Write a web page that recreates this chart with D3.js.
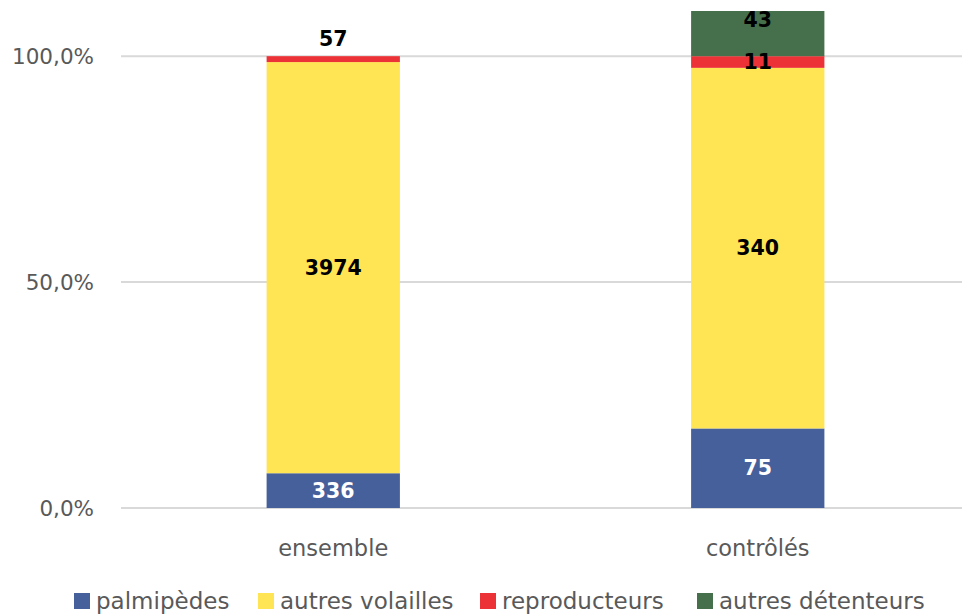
<!DOCTYPE html>
<html>
<head>
  <meta charset="utf-8">
  <title>Palmipèdes et autres volailles : ensemble et contrôlés</title>
  <script src="https://d3js.org/d3.v7.min.js"></script>
  <style>
    body { margin: 0; background: #fff; }
    svg text { font-family: "DejaVu Sans", "Open Sans", sans-serif; }
    .grid line { stroke: #d9d9d9; stroke-width: 2; }
    .tick-label { fill: #595959; font-size: 21.5px; }
    .cat-label { fill: #595959; font-size: 22.5px; }
    .legend text { fill: #595959; font-size: 23px; }
    .val { font-size: 20.5px; font-weight: bold; }
  </style>
</head>
<body>
<div id="chart"></div>
<script>
// data
const categories = ["ensemble", "contrôlés"];
const seriesNames = ["palmipèdes", "autres volailles", "reproducteurs", "autres détenteurs"];
const colors = ["#46609c", "#ffe553", "#ec3237", "#46704b"];
const palmipedes = [336, 75];
const autresVolailles = [3974, 340];
const reproducteurs = [57, 11];
const autresDetenteurs = [0, 43];
const yTicks = [0, 0.5, 1];

const series = [palmipedes, autresVolailles, reproducteurs, autresDetenteurs];

let width = 962, height = 615;
let margin = {top: 11, right: -8, bottom: 107, left: 121};

let svg = d3.select("#chart").append("svg")
    .attr("width", width)
    .attr("height", height);

let x = d3.scaleBand()
    .domain(categories)
    .range([margin.left, width - margin.right])
    .paddingInner(0.686)
    .paddingOuter(0.343);

let y = d3.scaleLinear()
    .domain([0, 1.1])
    .range([height - margin.bottom, margin.top]);

// gridlines
let grid = svg.append("g").attr("class", "grid");
grid.selectAll("line")
  .data(yTicks)
  .enter().append("line")
    .attr("x1", margin.left)
    .attr("x2", width)
    .attr("y1", d => y(d))
    .attr("y2", d => y(d));

svg.append("g").selectAll("text")
  .data(yTicks)
  .enter().append("text")
    .attr("class", "tick-label")
    .attr("x", 94)
    .attr("y", d => y(d))
    .attr("dy", "0.35em")
    .attr("text-anchor", "end")
    .text(d => d3.format(".1f")(d * 100).replace(".", ",") + "%");

svg.append("g").selectAll("text")
  .data(categories)
  .enter().append("text")
    .attr("class", "cat-label")
    .attr("x", d => x(d) + x.bandwidth() / 2)
    .attr("y", 548)
    .attr("dy", "0.35em")
    .attr("text-anchor", "middle")
    .text(d => d);

// stacking: shares of palmipèdes + autres volailles + reproducteurs,
// autres détenteurs stacked on top beyond 100%
let segs = [];
categories.forEach((c, i) => {
  let base = palmipedes[i] + autresVolailles[i] + reproducteurs[i];
  let acc = 0;
  series.forEach((s, k) => {
    let v = s[i];
    let y0 = acc / base;
    acc += v;
    segs.push({cat: c, k: k, v: v, y0: y0, y1: acc / base});
  });
});

svg.append("clipPath").attr("id", "plot")
  .append("rect")
    .attr("x", 0).attr("y", margin.top)
    .attr("width", width).attr("height", height - margin.bottom - margin.top);

svg.append("g").attr("clip-path", "url(#plot)")
  .selectAll("rect")
  .data(segs.filter(d => d.v > 0))
  .enter().append("rect")
    .attr("x", d => x(d.cat))
    .attr("width", x.bandwidth())
    .attr("y", d => y(d.y1))
    .attr("height", d => y(d.y0) - y(d.y1))
    .attr("fill", d => colors[d.k]);

// value labels
svg.append("g").selectAll("text")
  .data(segs.filter(d => d.v > 0))
  .enter().append("text")
    .attr("class", "val")
    .attr("x", d => x(d.cat) + x.bandwidth() / 2)
    .attr("y", function(d) {
      let top = Math.max(y(d.y1), margin.top);
      if (d.k == 2 && d.cat == "ensemble") return top - 17; // label above bar
      if (d.k == 3) return top + 9;
      return (top + y(d.y0)) / 2;
    })
    .attr("dy", "0.35em")
    .attr("text-anchor", "middle")
    .attr("fill", d => d.k == 0 ? "#fff" : "#000")
    .text(d => d.v);

// legend
let legendX = [74, 258, 480, 697];
let legend = svg.append("g").attr("class", "legend")
  .selectAll("g")
  .data(seriesNames)
  .enter().append("g")
    .attr("transform", (d, i) => "translate(" + legendX[i] + ",593)");

legend.append("rect")
    .attr("width", 16).attr("height", 16)
    .attr("fill", (d, i) => colors[i]);

legend.append("text")
    .attr("x", 22)
    .attr("y", 8)
    .attr("dy", "0.35em")
    .text(d => d);
</script>
</body>
</html>
